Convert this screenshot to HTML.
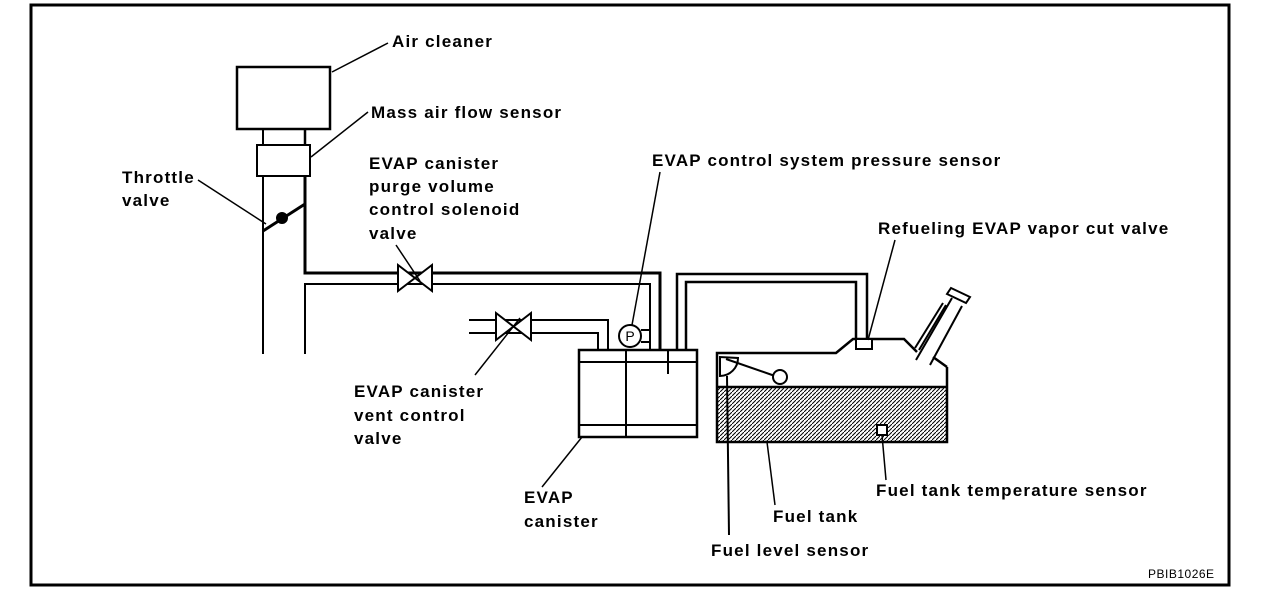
<!DOCTYPE html>
<html><head><style>
body{margin:0;background:#fff}
svg text{font-family:"Liberation Sans",sans-serif;font-size:17px;font-weight:bold;letter-spacing:1.2px;fill:#000}
</style></head><body>
<svg width="1280" height="604" viewBox="0 0 1280 604" xmlns="http://www.w3.org/2000/svg">
<defs><pattern id="h" width="4" height="4" patternUnits="userSpaceOnUse"><path d="M-1,5 L5,-1" stroke="#000" stroke-width="1"/></pattern></defs>
<rect x="31" y="5" width="1198" height="580" fill="none" stroke="#000" stroke-width="3"/>
<g stroke="#000" fill="none" stroke-width="2">
<rect x="237" y="67" width="93" height="62" stroke-width="2.5"/>
<line x1="263" y1="129" x2="263" y2="145"/><line x1="305" y1="129" x2="305" y2="145" stroke-width="2.5"/>
<rect x="257" y="145" width="53" height="31"/>
<line x1="263" y1="176" x2="263" y2="354"/>
<polyline points="305,176 305,273 660,273 660,350" stroke-width="3"/>
<polyline points="305,354 305,284 650,284 650,350"/>
<polygon points="398,265 398,291 432,265 432,291" fill="#fff"/>
<line x1="263" y1="231" x2="305" y2="204" stroke-width="3"/>
<circle cx="282" cy="218" r="5" fill="#000"/>
<polyline points="469,320 608,320 608,350"/>
<polyline points="469,333 598,333 598,350"/>
<polygon points="496,313 496,340 531,313 531,340" fill="#fff"/>
<circle cx="630" cy="336" r="11" fill="#fff"/>
<line x1="641" y1="330" x2="650" y2="330"/><line x1="641" y1="342" x2="650" y2="342"/>
<rect x="579" y="350" width="118" height="87" stroke-width="2.5"/>
<line x1="579" y1="362" x2="697" y2="362"/><line x1="579" y1="425" x2="697" y2="425"/>
<line x1="626" y1="350" x2="626" y2="437"/><line x1="668" y1="350" x2="668" y2="374"/>
<polyline points="677,350 677,274 867,274 867,339" stroke-width="2.5"/>
<polyline points="686,350 686,282 856,282 856,339" stroke-width="2.5"/>
<rect x="717" y="387" width="230" height="55" fill="url(#h)" stroke="none"/>
<polyline points="947,367 947,442 717,442 717,353 836,353 853,339 904,339 917,352" stroke-width="2.5"/>
<line x1="933" y1="357" x2="947" y2="367" stroke-width="2.5"/>
<line x1="717" y1="387" x2="947" y2="387" stroke-width="2.5"/>
<rect x="856" y="339" width="16" height="10" fill="#fff"/>
<rect x="877" y="425" width="10" height="10" fill="#fff"/>
<line x1="916" y1="360" x2="952" y2="298"/><line x1="930" y1="365" x2="962" y2="306"/>
<line x1="915" y1="348" x2="943" y2="303"/><line x1="919" y1="350" x2="946" y2="305"/>
<polygon points="951,288 970,297 966,303 947,294" fill="#fff"/>
<path d="M720,357 L720,376 A18,18 0 0 0 738,358 Z" fill="#fff"/>
<line x1="726" y1="359" x2="775" y2="376"/>
<circle cx="780" cy="377" r="7" fill="#fff"/>
<line x1="727" y1="376" x2="729" y2="535"/>
</g>
<g stroke="#000" stroke-width="1.5">
<line x1="332" y1="72" x2="388" y2="43"/>
<line x1="311" y1="157" x2="368" y2="112"/>
<line x1="198" y1="180" x2="266" y2="224"/>
<line x1="396" y1="245" x2="420" y2="281"/>
<line x1="660" y1="172" x2="632" y2="325"/>
<line x1="895" y1="240" x2="868" y2="340"/>
<line x1="475" y1="375" x2="520" y2="318"/>
<line x1="582" y1="437" x2="542" y2="487"/>
<line x1="767" y1="442" x2="775" y2="505"/>
<line x1="882" y1="435" x2="886" y2="480"/>
</g>
<text x="392" y="47">Air cleaner</text>
<text x="371" y="118">Mass air flow sensor</text>
<text x="122" y="183">Throttle</text><text x="122" y="206">valve</text>
<text x="369" y="169">EVAP canister</text><text x="369" y="192">purge volume</text>
<text x="369" y="215">control solenoid</text><text x="369" y="239">valve</text>
<text x="652" y="166">EVAP control system pressure sensor</text>
<text x="878" y="234">Refueling EVAP vapor cut valve</text>
<text x="354" y="397">EVAP canister</text><text x="354" y="421">vent control</text><text x="354" y="444">valve</text>
<text x="524" y="503">EVAP</text><text x="524" y="527">canister</text>
<text x="773" y="522">Fuel tank</text>
<text x="711" y="556">Fuel level sensor</text>
<text x="876" y="496">Fuel tank temperature sensor</text>
<text x="1148" y="578" style="font-size:12px;font-weight:normal;letter-spacing:0.5px">PBIB1026E</text>
<text x="630" y="341" text-anchor="middle" style="font-size:14px;font-weight:normal;letter-spacing:0">P</text>
</svg>
</body></html>
